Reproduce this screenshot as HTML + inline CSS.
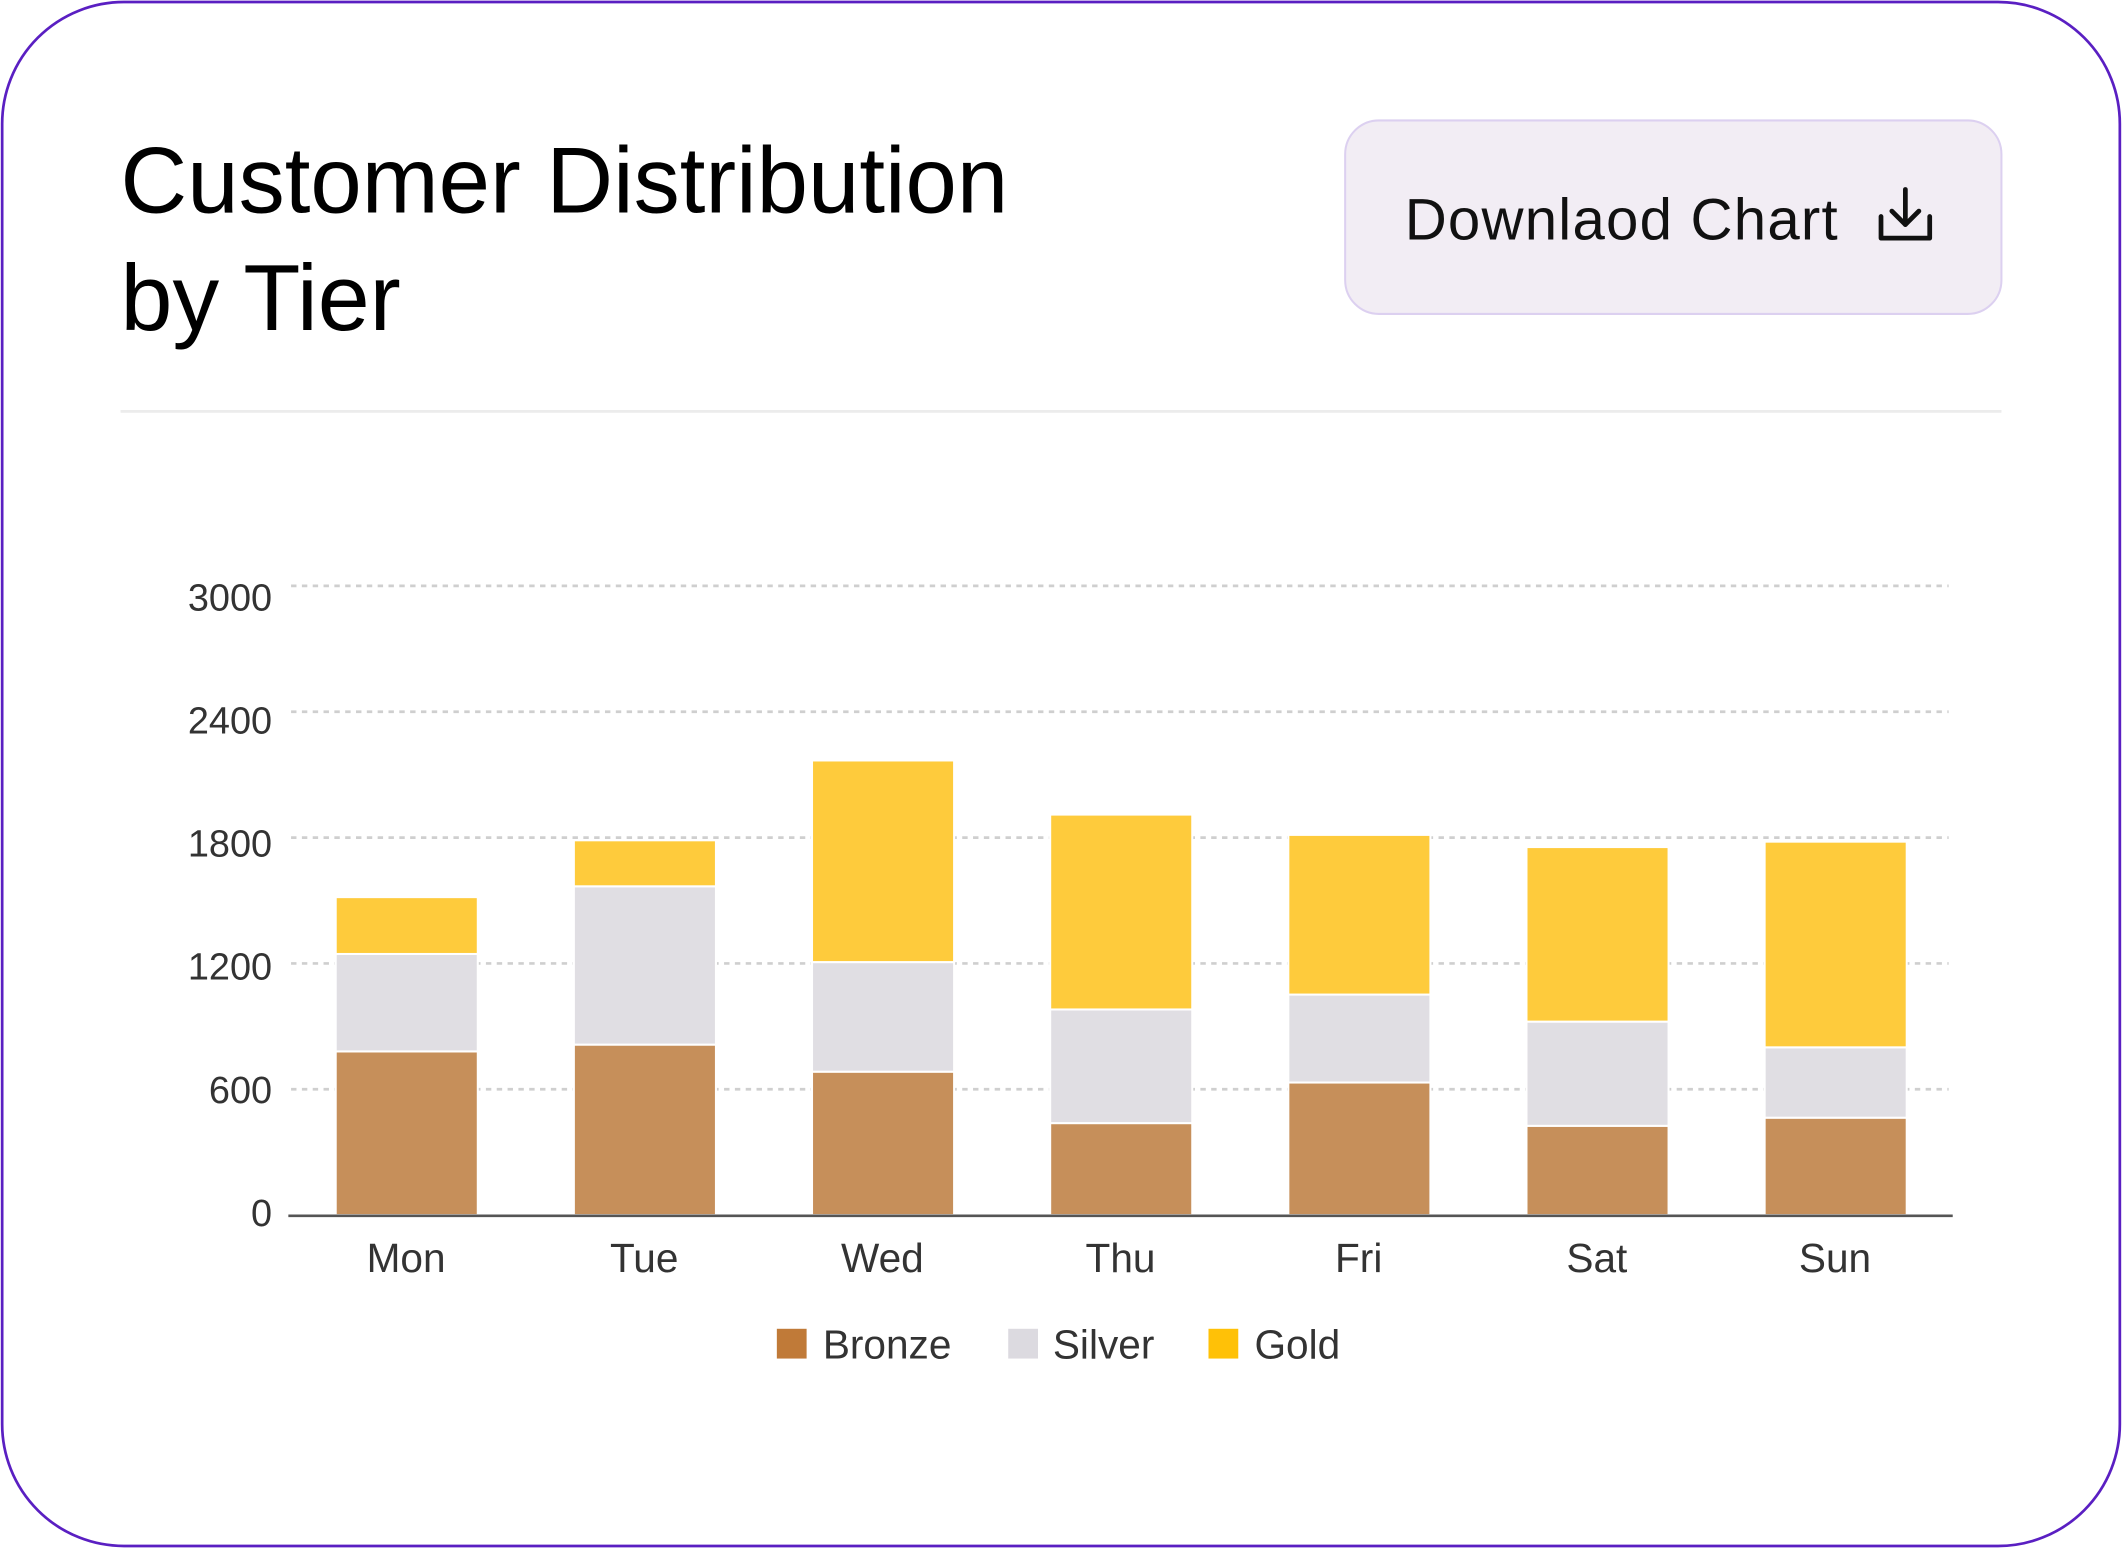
<!DOCTYPE html>
<html><head><meta charset="utf-8"><style>
html,body{margin:0;padding:0;background:#fff;}
svg{display:block;}
text{font-family:"Liberation Sans",sans-serif;}
</style></head><body>
<svg width="2122" height="1548" viewBox="0 0 1568 1144" xmlns="http://www.w3.org/2000/svg">
<rect x="1.5" y="1.5" width="1565" height="1141" rx="90" fill="#fff" stroke="#5a1fc2" stroke-width="2"/>
<text x="89" y="157" font-size="69" fill="#000" textLength="656" lengthAdjust="spacingAndGlyphs">Customer Distribution</text>
<text x="89" y="244" font-size="69" fill="#000">by Tier</text>
<rect x="994" y="89" width="485" height="143" rx="25" fill="#f2edf4" stroke="#dcd0f0" stroke-width="1.5"/>
<text x="1038" y="177" font-size="43" fill="#111" textLength="320" lengthAdjust="spacing">Downlaod Chart</text>
<g fill="none" stroke="#111" stroke-width="3.5" stroke-linecap="round" stroke-linejoin="round">
<path d="M1390 160 V176 H1426 V160"/>
<path d="M1408 140 V166"/>
<path d="M1398 156 L1408 166 L1418 156"/>
</g>
<line x1="89" y1="304" x2="1479" y2="304" stroke="#ececec" stroke-width="2"/>
<g stroke="#cfcfcf" stroke-width="2" stroke-dasharray="4,4">
<line x1="215" y1="433" x2="1440" y2="433"/>
<line x1="215" y1="526" x2="1440" y2="526"/>
<line x1="215" y1="619" x2="1440" y2="619"/>
<line x1="215" y1="712" x2="1440" y2="712"/>
<line x1="215" y1="805" x2="1440" y2="805"/>
</g>
<g font-size="28" fill="#333" text-anchor="end">
<text x="201" y="451">3000</text>
<text x="201" y="542">2400</text>
<text x="201" y="633">1800</text>
<text x="201" y="724">1200</text>
<text x="201" y="815">600</text>
<text x="201" y="906">0</text>
</g>
<g stroke="#fff" stroke-width="1.5">
<rect x="248" y="777" width="105" height="121" fill="#c68f5a"/><rect x="248" y="705" width="105" height="72" fill="#e0dee3"/><rect x="248" y="663" width="105" height="42" fill="#fecb3c"/>
<rect x="424" y="772" width="105" height="126" fill="#c68f5a"/><rect x="424" y="655" width="105" height="117" fill="#e0dee3"/><rect x="424" y="621" width="105" height="34" fill="#fecb3c"/>
<rect x="600" y="792" width="105" height="106" fill="#c68f5a"/><rect x="600" y="711" width="105" height="81" fill="#e0dee3"/><rect x="600" y="562" width="105" height="149" fill="#fecb3c"/>
<rect x="776" y="830" width="105" height="68" fill="#c68f5a"/><rect x="776" y="746" width="105" height="84" fill="#e0dee3"/><rect x="776" y="602" width="105" height="144" fill="#fecb3c"/>
<rect x="952" y="800" width="105" height="98" fill="#c68f5a"/><rect x="952" y="735" width="105" height="65" fill="#e0dee3"/><rect x="952" y="617" width="105" height="118" fill="#fecb3c"/>
<rect x="1128" y="832" width="105" height="66" fill="#c68f5a"/><rect x="1128" y="755" width="105" height="77" fill="#e0dee3"/><rect x="1128" y="626" width="105" height="129" fill="#fecb3c"/>
<rect x="1304" y="826" width="105" height="72" fill="#c68f5a"/><rect x="1304" y="774" width="105" height="52" fill="#e0dee3"/><rect x="1304" y="622" width="105" height="152" fill="#fecb3c"/>
</g>
<line x1="213" y1="898.5" x2="1443" y2="898.5" stroke="#555" stroke-width="2"/>
<g font-size="30" fill="#333" text-anchor="middle">
<text x="300" y="940">Mon</text><text x="476" y="940">Tue</text><text x="652" y="940">Wed</text>
<text x="828" y="940">Thu</text><text x="1004" y="940">Fri</text><text x="1180" y="940">Sat</text><text x="1356" y="940">Sun</text>
</g>
<rect x="574" y="982" width="22" height="22" fill="#c07a38"/>
<rect x="745" y="982" width="22" height="22" fill="#dcdae0"/>
<rect x="893" y="982" width="22" height="22" fill="#ffc107"/>
<g font-size="30" fill="#333">
<text x="608" y="1004">Bronze</text><text x="778" y="1004">Silver</text><text x="927" y="1004">Gold</text>
</g>
</svg>
</body></html>
